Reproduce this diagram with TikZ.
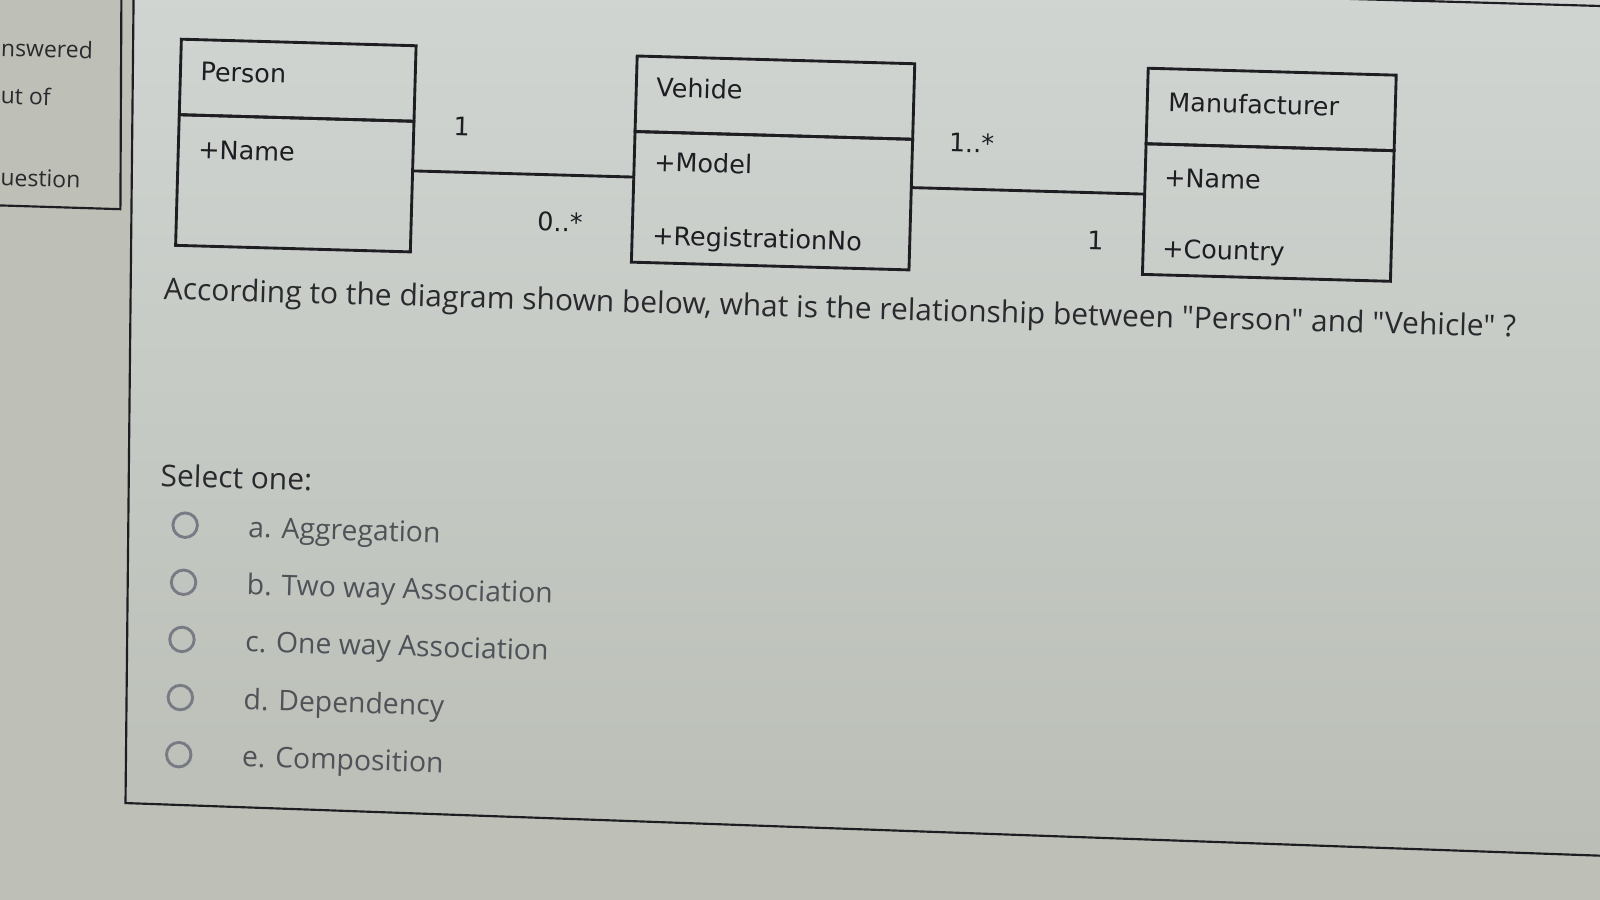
\documentclass[tikz,border=0pt]{standalone}
\usepackage{fontspec}
\setmainfont{Open Sans}[Ligatures=TeXOff]
\newfontfamily\umlfont{DejaVu Sans}
\usetikzlibrary{positioning,calc}

\definecolor{deskbg}{RGB}{190,191,182}
\definecolor{paneltop}{RGB}{208,213,210}
\definecolor{panelbottom}{RGB}{186,190,182}
\definecolor{ink}{RGB}{30,30,34}
\definecolor{qtext}{RGB}{42,42,46}
\definecolor{opttext}{RGB}{80,82,88}
\definecolor{radioring}{RGB}{120,122,132}

\begin{document}
\begin{tikzpicture}[
    x=0.01cm, y=-0.01cm,
    classhead/.style={draw=ink, line width=0.8pt, anchor=north west, minimum height=0.74cm, inner sep=0pt, outer sep=0pt},
    classbody/.style={draw=ink, line width=0.8pt, anchor=north, minimum height=1.28cm, inner sep=0pt, outer sep=0pt},
    umltext/.style={font=\umlfont\fontsize{7.1}{8.5}\selectfont, text=ink, inner sep=0pt, anchor=mid west},
    mult/.style={font=\umlfont\fontsize{7.1}{8.5}\selectfont, text=ink, inner sep=0pt},
    assoc/.style={draw=ink, line width=0.8pt},
    frame/.style={draw=ink, line width=0.6pt},
    sidetext/.style={font=\fontsize{6.4}{7.5}\selectfont, text=qtext, inner sep=0pt, anchor=mid west},
    question/.style={font=\fontsize{8.35}{10}\selectfont, text=qtext, inner sep=0pt, anchor=mid west},
    radio/.style={draw=radioring, circle, line width=0.8pt, minimum size=0.24cm, inner sep=0pt},
    option/.style={font=\fontsize{7.9}{9.5}\selectfont, text=opttext, inner sep=0pt, text height=1.5ex, text depth=0.4ex},
]
    \path[use as bounding box, clip] (0,0) rectangle (1568,882);

    % === SCREEN ===
    \fill[deskbg] (0,0) rectangle (1568,882);
    \shade[top color=paneltop, bottom color=panelbottom] (131,-10) -- (123,787) -- (1580,839) -- (1580,-10) -- cycle;
    \draw[frame] (131,-10) -- (123,787) -- (1580,839);
    \draw[frame] (1300,-1.7) -- (1580,6.2);
    \draw[frame] (119,-10) -- (118,205) -- (-10,201);

    \begin{scope}[rotate around={-1.6:(160,280)}, transform shape]
    % === SIDEBAR ===
    \node[sidetext] (answered) at (-6,50) {nswered};
    \node[sidetext] (outof) at (-5,97) {ut of};
    \node[sidetext] (questionno) at (-3,177) {uestion};

    % === CLASSES ===
    \node[classhead, minimum width=2.30cm] (personhead) at (171,38) {};
    \node[classbody, minimum width=2.30cm] (personbody) at (personhead.south) {};
    \node[umltext] (personname) at (190,69) {Person};
    \node[umltext] (personattr) at (190,145) {+Name};

    \node[classhead, minimum width=2.72cm] (vehiclehead) at (618,42) {};
    \node[classbody, minimum width=2.72cm] (vehiclebody) at (vehiclehead.south) {};
    \node[umltext] (vehiclename) at (637,72) {Vehide};
    \node[umltext] (vehiclemodel) at (637,145) {+Model};
    \node[umltext] (vehiclereg) at (637,217) {+RegistrationNo};

    \node[classhead, minimum width=2.43cm] (manuhead) at (1119,40) {};
    \node[classbody, minimum width=2.43cm] (manubody) at (manuhead.south) {};
    \node[umltext] (manuname) at (1139,72) {Manufacturer};
    \node[umltext] (manuattr) at (1137,146) {+Name};
    \node[umltext] (manucountry) at (1137,216) {+Country};

    % === ASSOCIATIONS ===
    \coordinate (pv) at ($(personbody.north east)!0.38!(personbody.south east)$);
    \draw[assoc] (pv) -- (pv -| vehiclebody.west);
    \node[mult] (pvone) at (448,116) {1};
    \node[mult] (pvmany) at (547,207) {0..*};

    \coordinate (vm) at ($(vehiclebody.north east)!0.37!(vehiclebody.south east)$);
    \draw[assoc] (vm) -- (vm -| manubody.west);
    \node[mult] (vmmany) at (948,118) {1..*};
    \node[mult] (vmone) at (1072,210) {1};

    % === QUESTION ===
    \node[question] (qtext) at (160,284) {According to the diagram shown below, what is the relationship between "Person" and "Vehicle" ?};
    \node[question] (selectone) at (162,467) {Select one:};

    % === OPTIONS ===
    \node[radio] (opta) at (188,514) {};
    \node[radio] (optb) at (188,570) {};
    \node[radio] (optc) at (188,626) {};
    \node[radio] (optd) at (188,683) {};
    \node[radio] (opte) at (188,739) {};
    \node[option, right=0.48cm of opta] (texta) {a. Aggregation};
    \node[option, right=0.48cm of optb] (textb) {b. Two way Association};
    \node[option, right=0.48cm of optc] (textc) {c. One way Association};
    \node[option, right=0.48cm of optd] (textd) {d. Dependency};
    \node[option, right=0.48cm of opte] (texte) {e. Composition};
    \end{scope}
\end{tikzpicture}
\end{document}
